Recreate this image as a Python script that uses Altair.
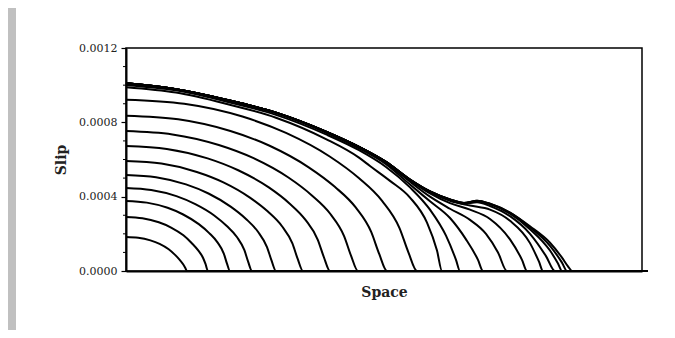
import altair as alt
import pandas as pd

# Space coordinate (arbitrary units, 0..516 spans the frame) and slip (in units of 1e-4)
END_X = 522

c1_x = [0, 12.2, 24.4, 33.6, 42.7, 48.8, 53.7, 57.3, 59.2, 61]
c1_y = [1.83, 1.79, 1.65, 1.46, 1.17, 0.88, 0.60, 0.35, 0.18, 0]
c2_x = [0, 16.4, 32.8, 45.1, 57.4, 65.6, 72.2, 77.1, 79.5, 82]
c2_y = [2.91, 2.84, 2.62, 2.34, 1.92, 1.51, 1.11, 0.70, 0.38, 0]
c3_x = [0, 20.8, 41.6, 57.2, 72.8, 83.2, 91.5, 97.8, 100.9, 104]
c3_y = [3.77, 3.68, 3.40, 3.04, 2.52, 2.04, 1.54, 0.94, 0.41, 0]
c4_x = [0, 25.2, 50.4, 69.3, 88.2, 100.8, 110.9, 118.4, 122.2, 126]
c4_y = [4.47, 4.36, 4.03, 3.60, 2.99, 2.42, 1.83, 1.12, 0.49, 0]
c5_x = [0, 30, 60, 82.5, 105, 120, 132, 141, 145.5, 150]
c5_y = [5.17, 5.05, 4.66, 4.17, 3.45, 2.80, 2.11, 1.29, 0.57, 0]
c6_x = [0, 35.4, 70.8, 97.4, 123.9, 141.6, 155.8, 166.4, 171.7, 177]
c6_y = [5.92, 5.78, 5.33, 4.77, 3.95, 3.21, 2.42, 1.48, 0.65, 0]
c7_x = [0, 40.8, 81.6, 112.2, 142.8, 163.2, 179.5, 191.8, 197.9, 204]
c7_y = [6.73, 6.57, 6.06, 5.42, 4.50, 3.65, 2.75, 1.68, 0.74, 0]
c8_x = [0, 46.4, 92.8, 127.6, 162.4, 185.6, 204.2, 218.1, 225, 232]
c8_y = [7.53, 7.35, 6.78, 6.07, 5.03, 4.08, 3.08, 1.88, 0.83, 0]
c9_x = [0, 52.2, 104.4, 143.6, 182.7, 208.8, 229.7, 245.3, 253.2, 261]
c9_y = [8.36, 8.16, 7.53, 6.74, 5.58, 4.53, 3.42, 2.09, 0.92, 0]
c10_x = [0, 58.2, 116.4, 160, 203.7, 232.8, 256.1, 273.5, 282.3, 291]
c10_y = [9.22, 9.00, 8.31, 7.43, 6.16, 5.00, 3.77, 2.31, 1.02, 0]
c11_x = [0, 50, 100, 150, 200, 233, 244, 264, 284, 301, 311, 316]
c11_y = [9.89, 9.60, 9.00, 8.25, 7.10, 6.10, 5.65, 4.85, 3.95, 2.60, 1.10, 0]
c12_x = [0, 50, 100, 150, 200, 233, 260, 284, 304, 320, 330, 334]
c12_y = [10.0, 9.72, 9.12, 8.40, 7.35, 6.50, 5.60, 4.50, 3.30, 1.90, 0.60, 0]
c13_x = [0, 50, 100, 150, 200, 233, 260, 284, 304, 324, 340, 352, 357]
c13_y = [10.1, 9.78, 9.22, 8.50, 7.45, 6.60, 5.75, 4.65, 3.75, 2.85, 1.70, 0.60, 0]
c14_x = [0, 50, 100, 150, 200, 233, 260, 284, 304, 324, 344, 360, 372, 381]
c14_y = [10.1, 9.78, 9.22, 8.52, 7.48, 6.65, 5.82, 4.80, 4.00, 3.35, 2.75, 2.00, 1.00, 0]
c15_x = [0, 50, 100, 150, 200, 233, 260, 284, 304, 324, 344, 364, 384, 396, 401]
c15_y = [10.1, 9.78, 9.22, 8.52, 7.50, 6.68, 5.86, 4.88, 4.18, 3.65, 3.30, 2.80, 1.70, 0.60, 0]
c16_x = [0, 50, 100, 150, 200, 233, 260, 284, 304, 324, 344, 364, 384, 404, 413, 417]
c16_y = [10.1, 9.78, 9.22, 8.52, 7.50, 6.68, 5.87, 4.91, 4.25, 3.78, 3.52, 3.30, 2.70, 1.50, 0.50, 0]
c17_x = [0, 50, 100, 150, 200, 233, 260, 284, 304, 324, 338, 351, 364, 384, 404, 420, 429]
c17_y = [10.1, 9.78, 9.22, 8.52, 7.50, 6.68, 5.87, 4.92, 4.28, 3.83, 3.62, 3.70, 3.50, 2.95, 2.00, 0.80, 0]
c18_x = [0, 50, 100, 150, 200, 233, 260, 284, 304, 324, 338, 351, 364, 384, 404, 424, 432, 436]
c18_y = [10.1, 9.78, 9.22, 8.52, 7.50, 6.68, 5.87, 4.92, 4.28, 3.85, 3.66, 3.76, 3.60, 3.08, 2.25, 1.10, 0.40, 0]
c19_x = [0, 50, 100, 150, 200, 233, 260, 284, 304, 324, 338, 351, 364, 384, 404, 424, 436, 441]
c19_y = [10.1, 9.78, 9.22, 8.52, 7.50, 6.68, 5.87, 4.92, 4.28, 3.85, 3.66, 3.78, 3.62, 3.14, 2.35, 1.35, 0.45, 0]
c20_x = [0, 50, 100, 150, 200, 233, 260, 284, 304, 324, 338, 351, 364, 384, 404, 424, 436, 442, 446]
c20_y = [10.1, 9.78, 9.22, 8.52, 7.50, 6.68, 5.87, 4.92, 4.28, 3.85, 3.66, 3.78, 3.62, 3.14, 2.40, 1.52, 0.72, 0.25, 0]

curves = [
    (c1_x, c1_y), (c2_x, c2_y), (c3_x, c3_y), (c4_x, c4_y), (c5_x, c5_y),
    (c6_x, c6_y), (c7_x, c7_y), (c8_x, c8_y), (c9_x, c9_y), (c10_x, c10_y),
    (c11_x, c11_y), (c12_x, c12_y), (c13_x, c13_y), (c14_x, c14_y), (c15_x, c15_y),
    (c16_x, c16_y), (c17_x, c17_y), (c18_x, c18_y), (c19_x, c19_y), (c20_x, c20_y),
]

y_major = [0.0, 0.0004, 0.0008, 0.0012]
y_minor = [0.0001, 0.0002, 0.0003, 0.0005, 0.0006, 0.0007, 0.0009, 0.0010, 0.0011]

rows = []
for i, (xs, ys) in enumerate(curves, start=1):
    for xv, yv in zip(xs, ys):
        rows.append({"curve": i, "space": xv, "slip": yv * 1e-4})
    rows.append({"curve": i, "space": END_X, "slip": 0.0})
df = pd.DataFrame(rows)

FONT = "DejaVu Serif"

x_scale = alt.Scale(domain=[0, 516], nice=False, zero=False)
y_scale = alt.Scale(domain=[0, 0.0012], nice=False)

strip = alt.Chart(pd.DataFrame({"k": [0]})).mark_rect(color="#c0c0c0").encode(
    x=alt.value(-120), x2=alt.value(-110), y=alt.value(-45), y2=alt.value(300)
)

lines = alt.Chart(df).mark_line(
    color="black", strokeWidth=2, interpolate="monotone", clip=False
).encode(
    x=alt.X("space:Q", scale=x_scale,
            axis=alt.Axis(title="Space", labels=False, ticks=False, grid=False,
                          domain=True, domainColor="black", domainWidth=2,
                          titleFont=FONT, titleFontSize=14, titleFontWeight="bold",
                          titleColor="#222", titlePadding=14)),
    y=alt.Y("slip:Q", scale=y_scale,
            axis=alt.Axis(title="Slip", values=y_major, format=".4f", grid=False,
                          domain=True, domainColor="black", domainWidth=2,
                          tickColor="black", tickSize=5, tickWidth=1.2,
                          labelFont=FONT, labelFontSize=11, labelColor="#222",
                          labelPadding=4,
                          titleFont=FONT, titleFontSize=14, titleFontWeight="bold",
                          titleColor="#222", titlePadding=10)),
    detail="curve:N",
    order="space:Q",
)

minor = alt.Chart(pd.DataFrame({"v": y_minor})).mark_rule(
    color="black", strokeWidth=1
).encode(
    y=alt.Y("v:Q", scale=y_scale),
    x=alt.value(-3),
    x2=alt.value(0),
)

chart = alt.layer(strip, lines, minor).properties(
    width=516,
    height=223,
    autosize=alt.AutoSizeParams(type="none"),
    padding={"left": 118, "top": 40, "right": 25, "bottom": 59},
    background="white",
).configure_view(
    stroke="black", strokeWidth=1.5
)

chart.save("out.html", embed_options={"renderer": "svg", "actions": False})
